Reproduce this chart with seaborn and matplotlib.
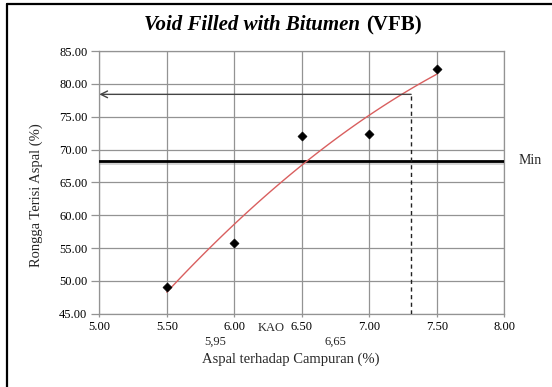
import matplotlib
matplotlib.use("Agg")
import matplotlib.pyplot as plt
import matplotlib.patheffects as pe
from matplotlib.lines import Line2D
from matplotlib.offsetbox import TextArea, HPacker, AnnotationBbox
import seaborn as sns
import pandas as pd
import numpy as np

# ---- data ----
kadar_aspal = [5.5, 6.0, 6.5, 7.0, 7.5]
vfb = [49.0, 55.7, 72.0, 72.3, 82.2]
x_ticks = [5.0, 5.5, 6.0, 6.5, 7.0, 7.5, 8.0]
y_ticks = [45, 50, 55, 60, 65, 70, 75, 80, 85]
vfb_min = 68.2
kao_x = 7.31
kao_y = 78.4
note_labels = ["5,95", "6,65"]
note_x = [5.86, 6.75]

df = pd.DataFrame({"x": kadar_aspal, "y": vfb})

W, H = 552, 387
sns.set_theme(style="white")
plt.rcParams["font.family"] = ["Liberation Serif", "DejaVu Serif"]

fig = plt.figure(figsize=(W / 100, H / 100), dpi=100)
fig.patch.set_facecolor("white")

def fx(px):
    return px / W

def fy(py):
    return 1 - py / H

left, right, top, bottom = 99.3, 504.3, 51.0, 313.7
ax = fig.add_axes([fx(left), fy(bottom), fx(right) - fx(left), fy(top) - fy(bottom)])
ax.set_facecolor("white")

grid_c = "#939393"
ax.set_xlim(5.0, 8.0)
ax.set_ylim(45, 85)
ax.set_xticks(x_ticks)
ax.set_yticks(y_ticks)
ax.set_xticklabels([f"{v:.2f}" for v in x_ticks])
ax.set_yticklabels([f"{v:.2f}" for v in y_ticks])
ax.grid(True, color=grid_c, lw=0.9)
ax.set_axisbelow(True)
for s in ax.spines.values():
    s.set_color(grid_c)
    s.set_linewidth(0.9)
ax.tick_params(axis="y", direction="out", length=6, width=0.9, color=grid_c,
               pad=2.5, labelsize=9, labelcolor="black", left=True)
ax.tick_params(axis="x", direction="out", length=2.5, width=0.9, color=grid_c,
               pad=3.0, labelsize=9, labelcolor="black", bottom=True)

# min line
ax.axhline(vfb_min, color="black", lw=2.0, zorder=3,
           path_effects=[pe.SimpleLineShadow(offset=(0, -1.2), alpha=0.35, shadow_color="gray"), pe.Normal()])

# trend line (polynomial order 2)
sns.regplot(data=df, x="x", y="y", order=2, ci=None, scatter=False, ax=ax,
            line_kws=dict(color="#d95f5f", lw=1.0, zorder=4), truncate=True)
# points
sns.scatterplot(data=df, x="x", y="y", marker="D", s=22, color="black",
                edgecolor="black", ax=ax, zorder=5, legend=False)

# KAO guide lines
ax.annotate("", xy=(5.0, kao_y), xytext=(kao_x, kao_y),
            arrowprops=dict(arrowstyle="->", color="#444444", lw=1.0,
                            shrinkA=0, shrinkB=0, mutation_scale=12), zorder=4)
ax.plot([kao_x, kao_x], [45, kao_y], ls=(0, (3, 2.5)), color="#222222", lw=1.0, zorder=4)

ax.set_xlabel("")
ax.set_ylabel("")

# notes below axis
trans = ax.get_xaxis_transform()
for lab, xv in zip(note_labels, note_x):
    ax.text(xv, -(342 - bottom) / (bottom - top), lab, transform=trans,
            ha="center", va="center", fontsize=9)
ax.text(6.27, -(328.3 - bottom) / (bottom - top), "KAO", transform=trans,
        ha="center", va="center", fontsize=9)

# Min label
fig.text(fx(519), fy(161), "Min", ha="left", va="center", fontsize=10)

# axis labels
fig.text(fx(291), fy(359.5), "Aspal terhadap Campuran (%)", ha="center", va="center", fontsize=10.5)
fig.text(fx(36), fy(195), "Rongga Terisi Aspal (%)", ha="center", va="center",
         rotation=90, fontsize=10.5)

# title with mixed style
t1 = TextArea("Void Filled with Bitumen", textprops=dict(fontsize=15, fontweight="bold",
                                                        fontstyle="italic", color="black"))
t2 = TextArea("(VFB)", textprops=dict(fontsize=15, fontweight="bold", color="black"))
box = HPacker(children=[t1, t2], align="baseline", pad=0, sep=4)
ab = AnnotationBbox(box, (fx(283), fy(25)), xycoords="figure fraction",
                    frameon=False, box_alignment=(0.5, 0.5))
fig.add_artist(ab)

# outer border (left and top visible)
fig.add_artist(Line2D([fx(6.5), fx(6.5)], [0, fy(3.5)], color="black", lw=1.6,
                      transform=fig.transFigure))
fig.add_artist(Line2D([fx(6.5), 1], [fy(3.5), fy(3.5)], color="black", lw=1.6,
                      transform=fig.transFigure))

fig.savefig("out.png", dpi=100)
